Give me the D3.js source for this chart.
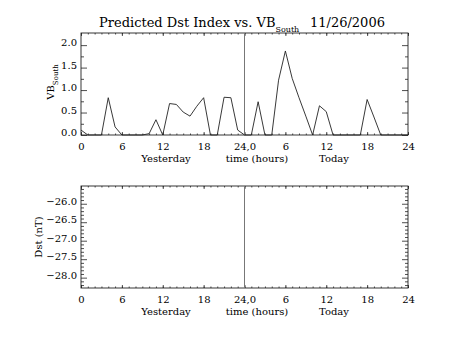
<!DOCTYPE html>
<html><head><meta charset="utf-8">
<script src="https://cdn.jsdelivr.net/npm/d3@7"></script>
<style>
html,body{margin:0;padding:0;background:#fff;}
svg text{font-family:"DejaVu Serif","Liberation Serif",serif;fill:#000;}
</style></head>
<body><svg id="c" width="453" height="340"></svg>
<script>
// ---- data ----
const hours = [0,1,2,3,4,5,6,7,8,9,10,11,12,13,14,15,16,17,18,19,20,21,22,23,24,
               25,26,27,28,29,30,31,32,33,34,35,36,37,38,39,40,41,42,43,44,45,46,47,48];
const vbSouth = [0.11,0,0,0,0.83,0.18,0,0,0,0,0.03,0.34,0,0.70,0.68,0.51,0.42,0.64,0.83,0,0,0.84,0.83,0.11,0,
                 0,0.74,0,0,1.22,1.87,1.26,0.83,0.42,0,0.65,0.52,0,0,0,0,0,0.79,0.40,0,0,0,0,0];
const dst = []; // no Dst predictions plotted
const xMajor = [0,6,12,18,24,30,36,42,48];
const xMajorLabels = ["0","6","12","18","24,0","6","12","18","24"];
const vbMajor = [0,0.5,1.0,1.5,2.0];
const vbMinor = [0.25,0.75,1.25,1.75];
const vbLabels = ["0.0","0.5","1.0","1.5","2.0"];
const dstMajor = [-28.0,-27.5,-27.0,-26.5,-26.0];
const dstLabels = ["\u221228.0","\u221227.5","\u221227.0","\u221226.5","\u221226.0"];
const titleMain = "Predicted Dst Index vs. VB";
const titleSub = "South";
const titleDate = "11/26/2006";

// ---- layout ----
const svg = d3.select("#c");
const X0 = 81, X1 = 408;
const x = d3.scaleLinear().domain([0,48]).range([X0,X1]);
const top1 = 33, bot1 = 135, top2 = 186, bot2 = 288;
const y1 = d3.scaleLinear().domain([0,2.27]).range([bot1,top1]);
const y2 = d3.scaleLinear().domain([-28.28,-25.52]).range([bot2,top2]);
const stroke = "#222";
const FS = 10;

function frame(y, yMaj, yMin, yLab, top, bot){
  const g = svg.append("g");
  const xb = d3.axisBottom(x).tickValues(xMajor).tickSizeInner(-3).tickSizeOuter(0)
     .tickPadding(0).tickFormat((d,i)=>xMajorLabels[i]);
  const gxb = g.append("g").attr("transform",`translate(0,${bot})`).call(xb);
  gxb.selectAll("text").attr("font-size",FS).attr("y",15).attr("dy",0);
  const xbm = d3.axisBottom(x).tickValues(hours).tickSizeInner(-1.5).tickSizeOuter(0).tickFormat("");
  g.append("g").attr("transform",`translate(0,${bot})`).call(xbm);
  const xt = d3.axisTop(x).tickValues(xMajor).tickSizeInner(-3).tickSizeOuter(0).tickFormat("");
  g.append("g").attr("transform",`translate(0,${top})`).call(xt);
  const xtm = d3.axisTop(x).tickValues(hours).tickSizeInner(-1.5).tickSizeOuter(0).tickFormat("");
  g.append("g").attr("transform",`translate(0,${top})`).call(xtm);
  const yl = d3.axisLeft(y).tickValues(yMaj).tickSizeInner(-6).tickSizeOuter(0).tickPadding(4)
     .tickFormat((d,i)=>yLab[i]);
  const gyl = g.append("g").attr("transform",`translate(${X0},0)`).call(yl);
  gyl.selectAll("text").attr("font-size",FS).attr("dy","0.05em");
  g.append("g").attr("transform",`translate(${X0},0)`)
    .call(d3.axisLeft(y).tickValues(yMin).tickSizeInner(-3).tickSizeOuter(0).tickFormat(""));
  g.append("g").attr("transform",`translate(${X1},0)`)
    .call(d3.axisRight(y).tickValues(yMaj).tickSizeInner(-6).tickSizeOuter(0).tickFormat(""));
  g.append("g").attr("transform",`translate(${X1},0)`)
    .call(d3.axisRight(y).tickValues(yMin).tickSizeInner(-3).tickSizeOuter(0).tickFormat(""));
  g.selectAll(".domain").remove();
  g.selectAll("line").attr("stroke",stroke).attr("stroke-width",0.8);
  g.selectAll(".tick text").attr("fill","#000").attr("font-family","DejaVu Serif");
  g.append("rect").attr("x",X0).attr("y",top).attr("width",X1-X0).attr("height",bot-top)
    .attr("fill","none").attr("stroke",stroke).attr("stroke-width",0.9);
  g.append("line").attr("x1",x(24)).attr("x2",x(24)).attr("y1",top).attr("y2",bot)
    .attr("stroke","#777").attr("stroke-width",1);
  const ty = bot + 27;
  g.append("text").attr("x",166).attr("y",ty).attr("text-anchor","middle").attr("font-size",FS).text("Yesterday");
  g.append("text").attr("x",257).attr("y",ty).attr("text-anchor","middle").attr("font-size",FS).text("time (hours)");
  g.append("text").attr("x",334).attr("y",ty).attr("text-anchor","middle").attr("font-size",FS).text("Today");
  return g;
}

frame(y1, vbMajor, vbMinor, vbLabels, top1, bot1);
const dstMinor = d3.range(-28.2,-25.55,0.1).map(v=>+v.toFixed(1)).filter(v=>!dstMajor.includes(v));
frame(y2, dstMajor, dstMinor, dstLabels, top2, bot2);

const line = d3.line().x((d,i)=>x(hours[i])).y(d=>y1(d));
svg.append("path").datum(vbSouth).attr("d",line).attr("fill","none")
  .attr("stroke",stroke).attr("stroke-width",0.9);

const t = svg.append("text").attr("x",99).attr("y",27).attr("font-size",13);
t.append("tspan").text(titleMain);
t.append("tspan").attr("font-size",8).attr("dy",5).text(titleSub);
t.append("tspan").attr("dy",-5).attr("x",310).text(titleDate);

const yt1 = svg.append("text").attr("transform","translate(54,82) rotate(-90)")
  .attr("text-anchor","middle").attr("font-size",FS);
yt1.append("tspan").text("VB");
yt1.append("tspan").attr("font-size",7).attr("dy",4).text("South");
svg.append("text").attr("transform","translate(42,237) rotate(-90)")
  .attr("text-anchor","middle").attr("font-size",FS).text("Dst (nT)");
</script></body></html>
